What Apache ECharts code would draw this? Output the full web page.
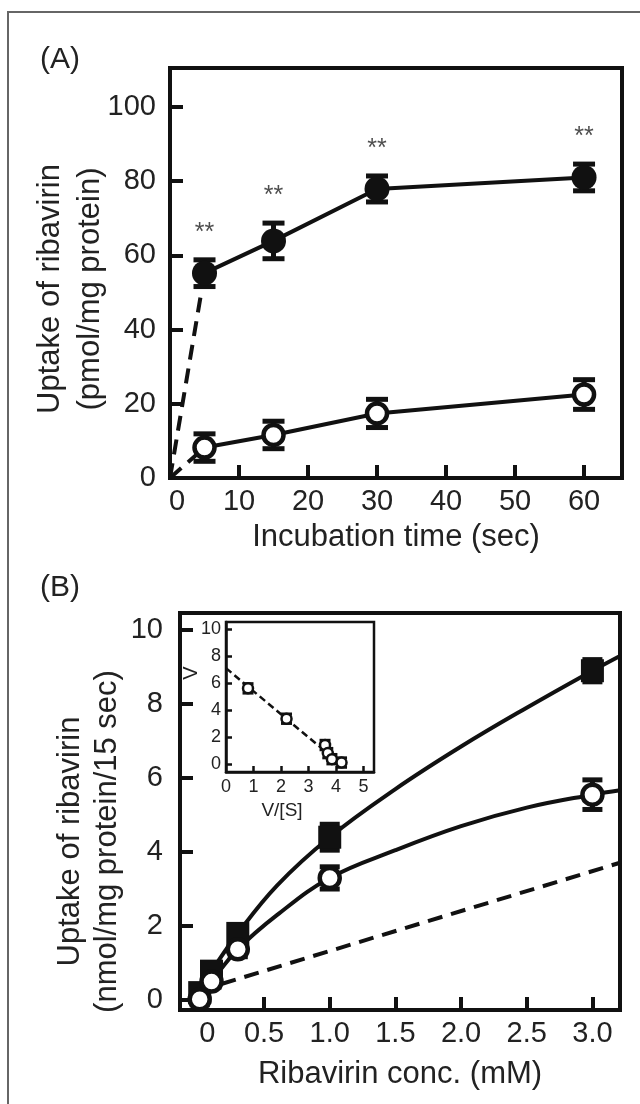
<!DOCTYPE html>
<html><head><meta charset="utf-8">
<script src="https://cdn.jsdelivr.net/npm/echarts@6/dist/echarts.min.js"></script>
<style>html,body{margin:0;padding:0;background:#fff}#c{width:640px;height:1104px}</style>
</head><body><div id="c"></div>
<script>
// ---------- Panel A : time course ----------
const timeA = [5, 15, 30, 60];
const filledA = [55.2, 63.9, 77.9, 81.0];
const filledErrA = [3.6, 4.8, 3.5, 3.6];
const openA = [8.2, 11.6, 17.4, 22.5];
const openErrA = [3.7, 3.7, 3.8, 4.0];
const signifA = ['**', '**', '**', '**'];
const xTicksA = [0, 10, 20, 30, 40, 50, 60];
const yTicksA = [0, 20, 40, 60, 80, 100];

// ---------- Panel B : concentration dependence ----------
const concB = [0.01, 0.1, 0.3, 1.0, 3.0];
const filledB = [0.2, 0.78, 1.8, 4.4, 8.9];
const filledErrB = [0.15, 0.15, 0.2, 0.35, 0.3];
const openB = [0.02, 0.5, 1.37, 3.3, 5.55];
const openErrB = [0.15, 0.15, 0.2, 0.3, 0.4];
const fitConcB = [0, 0.1, 0.3, 0.6, 1.0, 1.5, 2.0, 2.5, 3.0, 3.21];
const fitFilledB = [0.15, 0.78, 1.8, 3.1, 4.4, 5.7, 6.85, 7.9, 8.9, 9.3];
const fitOpenB = [0.02, 0.5, 1.37, 2.3, 3.3, 4.05, 4.7, 5.2, 5.55, 5.67];
const diffConcB = [0, 3.21];
const diffB = [0.245, 3.71];
const xTicksB = [0, 0.5, 1.0, 1.5, 2.0, 2.5, 3.0];
const yTicksB = [0, 2, 4, 6, 8, 10];

// ---------- Inset : Eadie-Hofstee ----------
const insetVS = [0.8, 2.2, 3.6, 3.7, 3.85, 4.2];
const insetV = [5.6, 3.35, 1.4, 0.8, 0.35, 0.1];
const insetErr = [0.35, 0.35, 0.35, 0.35, 0.35, 0.35];
const insetLineVS = [0, 4.15];
const insetLineV = [7.1, 0];
const insetXTicks = [0, 1, 2, 3, 4, 5];
const insetYTicks = [0, 2, 4, 6, 8, 10];

const FONT = "'Liberation Sans', Arial, sans-serif";
const INK = '#111';
const TXT = '#222';
const pairs = (xs, ys) => xs.map((x, i) => [x, ys[i]]);

function errorBars(xs, ys, errs, idx, capW, lw) {
  return {
    type: 'custom', xAxisIndex: idx, yAxisIndex: idx, z: 3, silent: true,
    data: xs.map((x, i) => [x, ys[i] - errs[i], ys[i] + errs[i]]),
    encode: { x: 0, y: [1, 2] },
    renderItem(params, api) {
      const lo = api.coord([api.value(0), api.value(1)]);
      const hi = api.coord([api.value(0), api.value(2)]);
      const h = capW / 2;
      const st = { stroke: INK, lineWidth: lw };
      return { type: 'group', children: [
        { type: 'line', shape: { x1: lo[0], y1: lo[1], x2: hi[0], y2: hi[1] }, style: st },
        { type: 'line', shape: { x1: lo[0] - h, y1: lo[1], x2: lo[0] + h, y2: lo[1] }, style: st },
        { type: 'line', shape: { x1: hi[0] - h, y1: hi[1], x2: hi[0] + h, y2: hi[1] }, style: st }
      ]};
    }
  };
}

function valAxis(o) {
  const fs = o.small ? 18 : 29;
  const lab = { show: true, customValues: o.labels, margin: o.margin, fontSize: fs,
    fontFamily: FONT, color: TXT, formatter: o.fmt || (v => String(v)) };
  if (o.zeroPad) {
    const base = o.fmt || (v => String(v));
    lab.formatter = v => (v === 0 ? '{z|0}' : base(v));
    lab.rich = { z: { fontSize: fs, fontFamily: FONT, color: TXT, padding: [0, 0, 0, o.zeroPad] } };
  }
  return {
    type: 'value', gridIndex: o.idx, min: o.min, max: o.max,
    splitLine: { show: false },
    axisLine: { show: true, onZero: false, lineStyle: { color: INK, width: o.small ? 2.5 : 4 } },
    axisTick: { show: true, inside: true, length: o.small ? 6 : 13, customValues: o.ticks,
      lineStyle: { color: INK, width: o.small ? 2.5 : 4 } },
    axisLabel: lab,
    name: o.name || '', nameLocation: 'middle', nameGap: o.nameGap || 0, nameMoveOverlap: false,
    nameTextStyle: Object.assign({ fontSize: o.small ? 20 : 31, fontFamily: FONT, color: TXT }, o.nameStyle || {})
  };
}

const chart = echarts.init(document.getElementById('c'), null, { renderer: 'canvas' });
const option = {
  animation: false,
  backgroundColor: '#fff',
  grid: [
    { left: 170, top: 68, width: 452, height: 410, show: true, borderColor: INK, borderWidth: 4, backgroundColor: 'rgba(0,0,0,0)' },
    { left: 180, top: 613, width: 440, height: 397, show: true, borderColor: INK, borderWidth: 4, backgroundColor: 'rgba(0,0,0,0)' },
    { left: 226, top: 622, width: 148, height: 150, show: true, borderColor: INK, borderWidth: 2.5, backgroundColor: '#fff' }
  ],
  xAxis: [
    valAxis({ idx: 0, min: 0, max: 65.5, ticks: xTicksA.slice(1), labels: xTicksA, margin: 9, zeroPad: 14,
      name: 'Incubation time (sec)', nameGap: 44 }),
    valAxis({ idx: 1, min: -0.14, max: 3.21, ticks: xTicksB.slice(1), labels: xTicksB, margin: 9, zeroPad: 18,
      fmt: v => (v === 0 ? '0' : v.toFixed(1)), name: 'Ribavirin conc. (mM)', nameGap: 49 }),
    valAxis({ idx: 2, small: true, min: 0, max: 5.38, ticks: insetXTicks.slice(1), labels: insetXTicks, margin: 6,
      name: 'V/[S]', nameGap: 29, nameStyle: { fontSize: 19, padding: [0, 36, 0, 0] } })
  ],
  yAxis: [
    valAxis({ idx: 0, min: 0, max: 110.5, ticks: yTicksA.slice(1), labels: yTicksA, margin: 14,
      name: 'Uptake of ribavirin\n(pmol/mg protein)', nameGap: 60,
      nameStyle: { lineHeight: 40, padding: [0, 32, 0, 0] } }),
    valAxis({ idx: 1, min: -0.27, max: 10.46, ticks: yTicksB, labels: yTicksB, margin: 17,
      name: 'Uptake of ribavirin\n(nmol/mg protein/15 sec)', nameGap: 54,
      nameStyle: { lineHeight: 37, padding: [0, 60, 0, 0] } }),
    valAxis({ idx: 2, small: true, min: -0.6, max: 10.52, ticks: insetYTicks, labels: insetYTicks, margin: 5,
      name: 'V', nameGap: 25, nameStyle: { padding: [0, 0, 0, 48] } })
  ],
  graphic: [
    { type: 'rect', silent: true, z: 0, shape: { x: 8, y: 12, width: 700, height: 1200 },
      style: { fill: 'none', stroke: '#666', lineWidth: 2 } },
    { type: 'text', x: 60, y: 60, style: { text: '(A)', fontSize: 30, fontFamily: FONT, fill: TXT, align: 'center', verticalAlign: 'middle' } },
    { type: 'text', x: 60, y: 588, style: { text: '(B)', fontSize: 30, fontFamily: FONT, fill: TXT, align: 'center', verticalAlign: 'middle' } }
  ],
  series: [
    // Panel A lines
    { type: 'line', xAxisIndex: 0, yAxisIndex: 0, z: 2, symbol: 'none', data: pairs(timeA, filledA),
      lineStyle: { color: INK, width: 4 } },
    { type: 'line', xAxisIndex: 0, yAxisIndex: 0, z: 2, symbol: 'none', data: pairs(timeA, openA),
      lineStyle: { color: INK, width: 4 } },
    { type: 'line', xAxisIndex: 0, yAxisIndex: 0, z: 2, symbol: 'none', data: [[0, 0], [timeA[0], filledA[0]]],
      lineStyle: { color: INK, width: 4, type: [15, 9] } },
    { type: 'line', xAxisIndex: 0, yAxisIndex: 0, z: 2, symbol: 'none', data: [[0, 0], [timeA[0], openA[0]]],
      lineStyle: { color: INK, width: 4, type: [15, 9] } },
    errorBars(timeA, filledA, filledErrA, 0, 22, 5),
    errorBars(timeA, openA, openErrA, 0, 22, 5),
    { type: 'scatter', xAxisIndex: 0, yAxisIndex: 0, z: 4, symbol: 'circle', symbolSize: 25,
      data: pairs(timeA, filledA), itemStyle: { color: INK, opacity: 1 } },
    { type: 'scatter', xAxisIndex: 0, yAxisIndex: 0, z: 4, symbol: 'circle', symbolSize: 20,
      data: pairs(timeA, openA), itemStyle: { color: '#fff', borderColor: INK, borderWidth: 4.5, opacity: 1 } },
    { type: 'scatter', xAxisIndex: 0, yAxisIndex: 0, z: 5, symbolSize: 1, itemStyle: { color: 'rgba(0,0,0,0)' },
      data: timeA.map((t, i) => [t, filledA[i] + filledErrA[i]]),
      label: { show: true, position: 'top', distance: 14, fontSize: 25, fontFamily: FONT, color: TXT,
        formatter: p => signifA[p.dataIndex] } },

    // Panel B
    { type: 'line', xAxisIndex: 1, yAxisIndex: 1, z: 2, symbol: 'none', smooth: 0.4, data: pairs(fitConcB, fitFilledB),
      lineStyle: { color: INK, width: 4 } },
    { type: 'line', xAxisIndex: 1, yAxisIndex: 1, z: 2, symbol: 'none', smooth: 0.4, data: pairs(fitConcB, fitOpenB),
      lineStyle: { color: INK, width: 4 } },
    { type: 'line', xAxisIndex: 1, yAxisIndex: 1, z: 2, symbol: 'none', data: pairs(diffConcB, diffB),
      lineStyle: { color: INK, width: 4, type: [15, 9] } },
    errorBars(concB, filledB, filledErrB, 1, 20, 5),
    errorBars(concB, openB, openErrB, 1, 20, 5),
    { type: 'scatter', xAxisIndex: 1, yAxisIndex: 1, z: 4, symbol: 'rect', symbolSize: 23,
      data: pairs(concB, filledB), itemStyle: { color: INK, opacity: 1 } },
    { type: 'scatter', xAxisIndex: 1, yAxisIndex: 1, z: 4, symbol: 'circle', symbolSize: 20,
      data: pairs(concB, openB), itemStyle: { color: '#fff', borderColor: INK, borderWidth: 4.5, opacity: 1 } },

    // Inset
    { type: 'line', xAxisIndex: 2, yAxisIndex: 2, z: 6, symbol: 'none', data: pairs(insetLineVS, insetLineV),
      lineStyle: { color: INK, width: 2.5, type: [7, 4] } },
    Object.assign(errorBars(insetVS, insetV, insetErr, 2, 11, 3), { z: 7 }),
    { type: 'scatter', xAxisIndex: 2, yAxisIndex: 2, z: 8, symbol: 'circle', symbolSize: 10,
      data: pairs(insetVS, insetV), itemStyle: { color: '#fff', borderColor: INK, borderWidth: 2.5, opacity: 1 } }
  ]
};
chart.setOption(option);
</script>
</body></html>
